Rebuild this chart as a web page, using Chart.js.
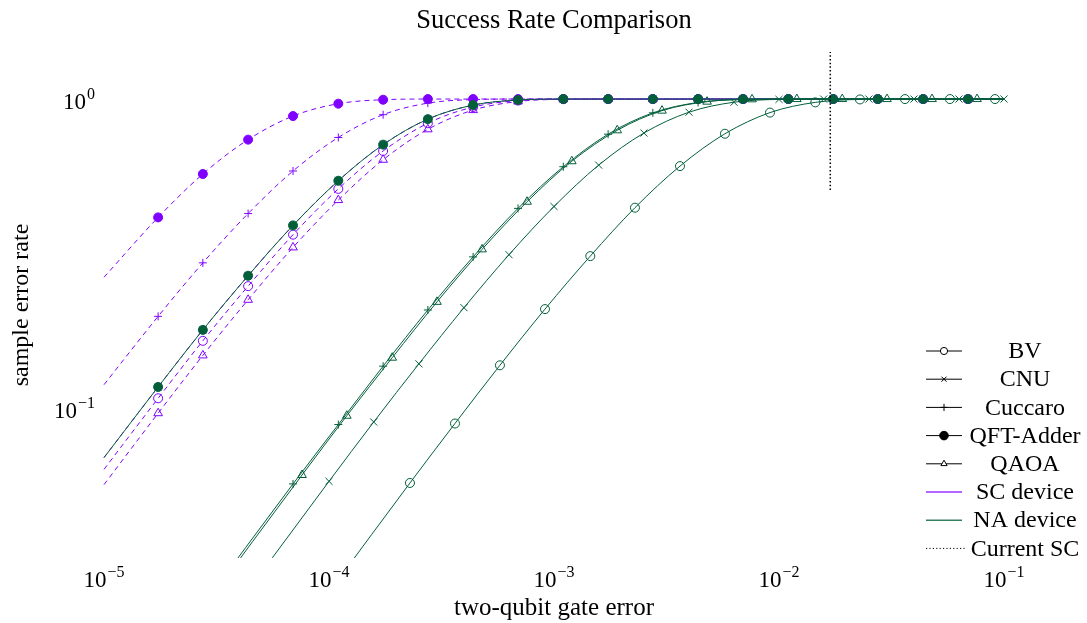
<!DOCTYPE html>
<html>
<head>
<meta charset="utf-8">
<script src="https://cdn.jsdelivr.net/npm/chart.js@4.4.1/dist/chart.umd.min.js"></script>
<style>
  html, body { margin: 0; padding: 0; background: #fff; }
  #chart { display: block; }
</style>
</head>
<body>
<canvas id="chart" width="1087" height="623"></canvas>
<script>
const purple = '#7f00ff';
const green = '#035f3a';
const serif = '"Liberation Serif", "DejaVu Serif", serif';

// two-qubit gate error (x) for each curve, first/last entries are the line ends
const xSC = [1e-5, 1.74e-5, 2.75e-5, 4.37e-5, 6.92e-5, 1.10e-4, 1.74e-4, 2.75e-4, 4.37e-4, 6.92e-4,
  1.10e-3, 1.74e-3, 2.75e-3, 4.37e-3, 6.92e-3, 1.10e-2, 1.74e-2, 2.75e-2, 4.37e-2, 6.92e-2, 1e-1];
const xBV_NA = [1e-5, 2.29e-4, 3.63e-4, 5.75e-4, 9.12e-4, 1.45e-3, 2.29e-3, 3.63e-3, 5.75e-3,
  9.12e-3, 1.45e-2, 2.29e-2, 3.63e-2, 5.75e-2, 9.12e-2, 1e-1];
const xCNU_NA = [1e-5, 1.00e-4, 1.58e-4, 2.51e-4, 3.98e-4, 6.31e-4, 1.00e-3, 1.58e-3, 2.51e-3,
  3.98e-3, 6.31e-3, 1.00e-2, 1.58e-2, 2.51e-2, 3.98e-2, 6.31e-2, 1e-1];
const xCuccaro_NA = [1e-5, 6.92e-5, 1.10e-4, 1.74e-4, 2.75e-4, 4.37e-4, 6.92e-4, 1.10e-3, 1.74e-3,
  2.75e-3, 4.37e-3, 6.92e-3, 1.10e-2, 1.74e-2, 2.75e-2, 4.37e-2, 6.92e-2, 1e-1];
const xQAOA_NA = [1e-5, 7.59e-5, 1.20e-4, 1.91e-4, 3.02e-4, 4.79e-4, 7.59e-4, 1.20e-3, 1.91e-3,
  3.02e-3, 4.79e-3, 7.59e-3, 1.20e-2, 1.91e-2, 3.02e-2, 4.79e-2, 7.59e-2, 1e-1];

// sample error rate, SC device
const scBV = [0.0633, 0.1075, 0.165, 0.248, 0.364, 0.512, 0.679, 0.835, 0.942, 0.989, 0.999,
  1, 1, 1, 1, 1, 1, 1, 1, 1, 1];
const scCNU = [0.0691, 0.117, 0.179, 0.268, 0.390, 0.544, 0.712, 0.861, 0.956, 0.993,
  1, 1, 1, 1, 1, 1, 1, 1, 1, 1, 1];
const scCuccaro = [0.119, 0.198, 0.295, 0.426, 0.585, 0.751, 0.890, 0.970, 0.996,
  1, 1, 1, 1, 1, 1, 1, 1, 1, 1, 1, 1];
const scQFT = [0.265, 0.414, 0.572, 0.739, 0.881, 0.966, 0.995,
  1, 1, 1, 1, 1, 1, 1, 1, 1, 1, 1, 1, 1, 1];
const scQAOA = [0.0565, 0.0962, 0.148, 0.224, 0.331, 0.471, 0.636, 0.798, 0.921, 0.982, 0.998,
  1, 1, 1, 1, 1, 1, 1, 1, 1, 1];

// sample error rate, NA device
const naBV = [0.00257, 0.0572, 0.0891, 0.1375, 0.2090, 0.3102, 0.4450, 0.6067, 0.7721, 0.9040,
  0.9756, 0.9972, 0.9999, 1, 1, 1];
const naCNU = [0.00594, 0.0579, 0.0901, 0.1390, 0.2112, 0.3135, 0.4490, 0.6112, 0.7763, 0.9067,
  0.9767, 0.9974, 0.9999, 1, 1, 1, 1];
const naCuccaro = [0.00841, 0.0568, 0.0884, 0.1366, 0.2076, 0.3084, 0.4427, 0.6039, 0.7697,
  0.9024, 0.9750, 0.9971, 0.9999, 1, 1, 1, 1, 1];
const naQFT = [0.0691, 0.117, 0.179, 0.268, 0.390, 0.544, 0.712, 0.861, 0.956, 0.993,
  1, 1, 1, 1, 1, 1, 1, 1, 1, 1, 1];
const naQAOA = [0.00822, 0.0607, 0.0944, 0.1455, 0.2206, 0.3262, 0.4652, 0.6291, 0.7923,
  0.9172, 0.9807, 0.9981, 1, 1, 1, 1, 1, 1];

const algoNames = ['BV', 'CNU', 'Cuccaro', 'QFT-Adder', 'QAOA'];
const algoMarkers = ['circle', 'crossRot', 'cross', 'circle', 'triangle'];
const algoFilled = [false, false, false, true, false];
const naMarkLast = [14, 16, 16, 19, 16];
const deviceNames = ['SC device', 'NA device', 'Current SC'];
const chartTitle = 'Success Rate Comparison';

const currentSC = 0.0169;
const currentSCLow = 0.508;
const yMin = 0.0327, yMax = 1.42;
const xTicks = [1e-5, 1e-4, 1e-3, 1e-2, 1e-1];
const yTicks = [0.1, 1];

const markerRadius = { circle: 4.5, crossRot: 5, cross: 4, triangle: 5 };

function curve(xs, ys, color, a, dashed, lastMark, order) {
  const style = algoMarkers[a];
  return {
    label: algoNames[a],
    data: xs.map((x, i) => ({ x: x, y: ys[i] })),
    borderColor: color,
    borderWidth: 1,
    borderDash: dashed ? [5, 4] : [],
    cubicInterpolationMode: 'monotone',
    fill: false,
    order: order,
    pointStyle: style,
    pointRadius: c => (c.dataIndex >= 1 && c.dataIndex <= lastMark) ? markerRadius[style] : 0,
    pointBorderColor: color,
    pointBorderWidth: 1,
    pointBackgroundColor: algoFilled[a] ? color : 'rgba(0,0,0,0)',
    clip: { left: 6, top: 6, right: 8, bottom: 0 }
  };
}

const scYs = [scBV, scCNU, scCuccaro, scQFT, scQAOA];
const naXs = [xBV_NA, xCNU_NA, xCuccaro_NA, xSC, xQAOA_NA];
const naYs = [naBV, naCNU, naCuccaro, naQFT, naQAOA];

const datasets = [];
datasets.push({
  label: deviceNames[2],
  data: [{ x: currentSC, y: currentSCLow }, { x: currentSC, y: yMax }],
  borderColor: '#000', borderWidth: 1.5, borderDash: [1.5, 2.2],
  pointRadius: 0, order: -1, clip: 2
});
for (let a = 0; a < 5; a++) datasets.push(curve(naXs[a], naYs[a], green, a, false, naMarkLast[a], 0));
for (let a = 0; a < 5; a++) datasets.push(curve(xSC, scYs[a], purple, a, true, 19, 1));

function drawPower(ctx, v, x, y, align) {
  const e = Math.round(Math.log10(v));
  const base = '10', sup = e < 0 ? '\u2212' + (-e) : String(e);
  ctx.font = '23px ' + serif;
  const wb = ctx.measureText(base).width;
  ctx.font = '16px ' + serif;
  const ws = ctx.measureText(sup).width;
  const total = wb + 1 + ws;
  const left = align === 'right' ? x - total : x - total / 2;
  ctx.textAlign = 'left';
  ctx.textBaseline = 'alphabetic';
  ctx.font = '23px ' + serif;
  ctx.fillText(base, left, y);
  ctx.font = '16px ' + serif;
  ctx.fillText(sup, left + wb + 1, y - 10);
}

const powerTicks = {
  id: 'powerTicks',
  afterDraw(chart) {
    const { ctx, chartArea, scales } = chart;
    ctx.save();
    ctx.fillStyle = '#000';
    xTicks.forEach(v => drawPower(ctx, v, scales.x.getPixelForValue(v), chartArea.bottom + 29, 'center'));
    yTicks.forEach(v => drawPower(ctx, v, chartArea.left - 9, scales.y.getPixelForValue(v) + 10, 'right'));
    // title centred over the plot area
    ctx.font = '26.5px ' + serif;
    ctx.textAlign = 'center';
    ctx.textBaseline = 'middle';
    ctx.fillText(chartTitle, (chartArea.left + chartArea.right) / 2, 21);
    ctx.restore();
  }
};

const sideLegend = {
  id: 'sideLegend',
  afterDraw(chart) {
    const ctx = chart.ctx;
    const x0 = 926, x1 = 962, tx = 1025;
    ctx.save();
    const rows = algoNames.concat(deviceNames);
    rows.forEach((name, i) => {
      const y = 351 + i * 28.2;
      ctx.setLineDash([]);
      ctx.lineWidth = 1;
      if (i < 5) {
        ctx.strokeStyle = '#000';
        ctx.beginPath(); ctx.moveTo(x0, y); ctx.lineTo(x1, y); ctx.stroke();
        ctx.fillStyle = algoFilled[i] ? '#000' : '#fff';
        const r = algoFilled[i] ? 4.3 : 3.6;
        Chart.helpers.drawPoint(ctx, { pointStyle: algoMarkers[i], radius: r, rotation: 0, borderWidth: 1 }, (x0 + x1) / 2, y);
      } else if (i < 7) {
        ctx.strokeStyle = i === 5 ? purple : green;
        ctx.globalAlpha = 0.8;
        ctx.lineWidth = 1.4;
        ctx.beginPath(); ctx.moveTo(x0, y); ctx.lineTo(x1, y); ctx.stroke();
        ctx.globalAlpha = 1;
      } else {
        ctx.strokeStyle = '#000';
        ctx.setLineDash([1.2, 2.2]);
        ctx.beginPath(); ctx.moveTo(x0, y); ctx.lineTo(x1 + 4, y); ctx.stroke();
      }
      ctx.fillStyle = '#000';
      ctx.font = '24px ' + serif;
      ctx.textAlign = 'center';
      ctx.textBaseline = 'middle';
      ctx.fillText(name, tx, y + 1);
    });
    ctx.restore();
  }
};

new Chart(document.getElementById('chart'), {
  type: 'line',
  data: { datasets: datasets },
  options: {
    responsive: false,
    devicePixelRatio: 1,
    animation: false,
    events: [],
    layout: { padding: { left: 0, right: 83, top: 52, bottom: 0 } },
    scales: {
      x: {
        type: 'logarithmic',
        min: 1e-5, max: 1e-1,
        grid: { display: false }, border: { display: false },
        ticks: { display: false },
        title: { display: true, text: 'two-qubit gate error', color: '#000',
                 font: { family: serif, size: 25 }, padding: { top: 0, bottom: 0 } },
        afterFit: s => { s.height = 65; }
      },
      y: {
        type: 'logarithmic',
        min: yMin, max: yMax,
        grid: { display: false }, border: { display: false },
        ticks: { display: false },
        title: { display: true, text: 'sample error rate', color: '#000',
                 font: { family: serif, size: 24 }, padding: { top: 7.6, bottom: 0 } },
        afterFit: s => { s.width = 104; }
      }
    },
    plugins: {
      legend: { display: false },
      tooltip: { enabled: false },
      title: { display: false }
    }
  },
  plugins: [powerTicks, sideLegend]
});
</script>
</body>
</html>
